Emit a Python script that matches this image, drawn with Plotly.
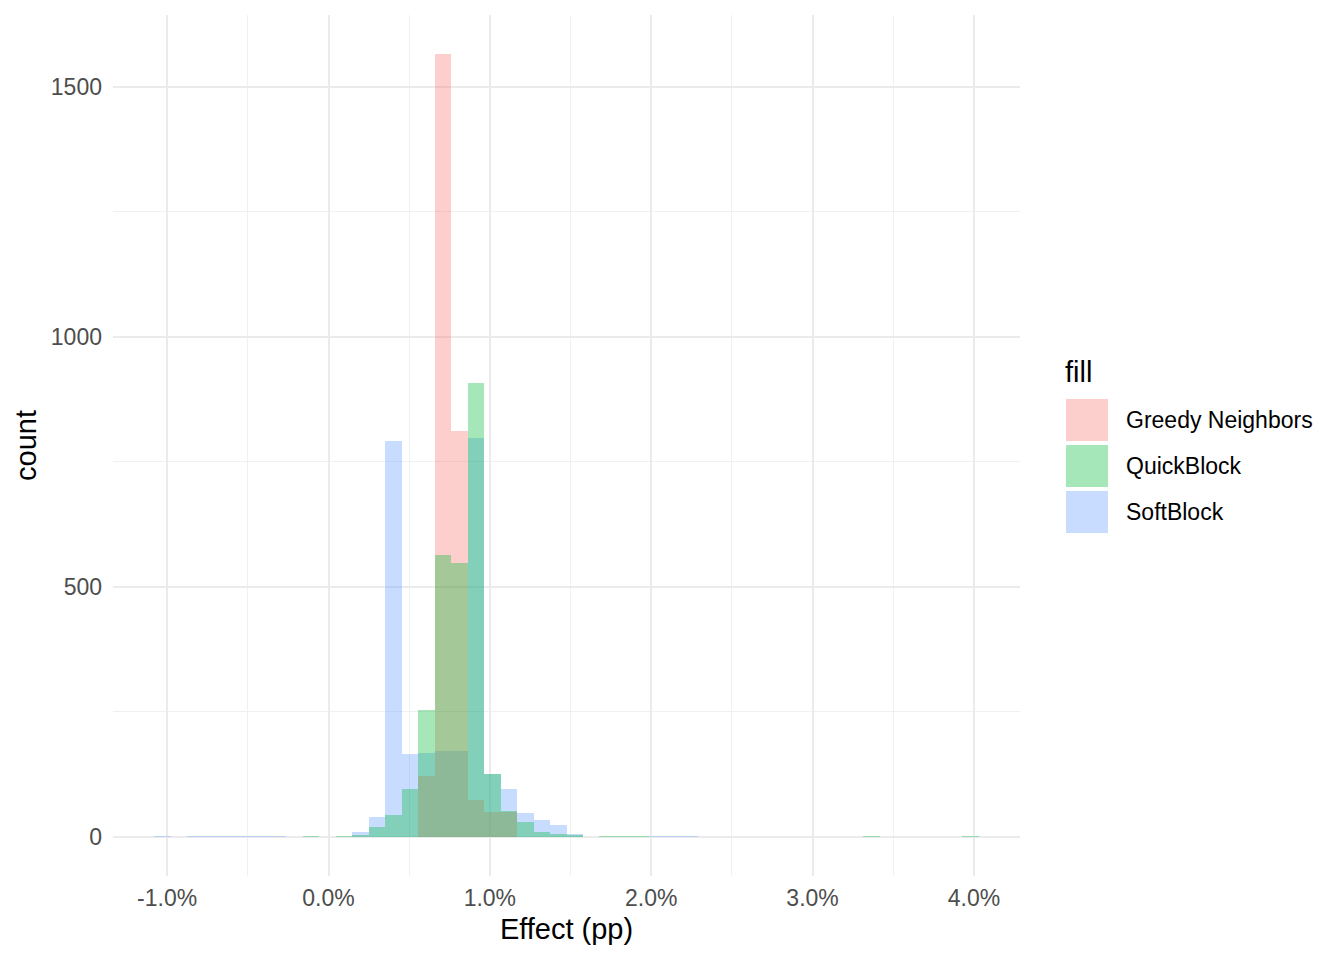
import numpy as np
import plotly.graph_objects as go

# Histogram binning (50 bins, in percentage points)
bin_start = -1.08
bin_width = 0.1022
n_bins = 50

series_names = ["Greedy Neighbors", "QuickBlock", "SoftBlock"]

# counts per bin index (bins not listed are 0)
greedy_counts = {16: 122, 17: 1565, 18: 811, 19: 73, 20: 49, 21: 49}
quick_counts = {9: 1, 11: 2, 12: 4, 13: 20, 14: 44, 15: 96, 16: 253, 17: 564,
                18: 547, 19: 908, 20: 125, 21: 52, 22: 29, 23: 9, 24: 6,
                25: 3, 27: 1, 28: 1, 29: 1, 43: 1, 49: 1}
soft_counts = {0: 1, 2: 1, 3: 1, 4: 1, 5: 1, 6: 1, 7: 1, 12: 10, 13: 40,
               14: 792, 15: 166, 16: 167, 17: 172, 18: 171, 19: 798, 20: 126,
               21: 95, 22: 47, 23: 33, 24: 23, 25: 6, 30: 1, 31: 1, 32: 1}

x_tick_vals = [-1, 0, 1, 2, 3, 4]
x_tick_text = ["-1.0%", "0.0%", "1.0%", "2.0%", "3.0%", "4.0%"]
y_tick_vals = [0, 500, 1000, 1500]
y_tick_text = ["0", "500", "1000", "1500"]

colors = {"Greedy Neighbors": "rgba(248,118,109,0.35)",
          "QuickBlock": "rgba(0,186,56,0.35)",
          "SoftBlock": "rgba(97,156,255,0.35)"}

centers = bin_start + bin_width * (np.arange(n_bins) + 0.5)


def to_array(d):
    arr = np.zeros(n_bins)
    for k, v in d.items():
        arr[k] = v
    return arr


counts = {"Greedy Neighbors": to_array(greedy_counts),
          "QuickBlock": to_array(quick_counts),
          "SoftBlock": to_array(soft_counts)}

# drawing (layer) order: SoftBlock, Greedy Neighbors, QuickBlock on top
draw_order = ["SoftBlock", "Greedy Neighbors", "QuickBlock"]

fig = go.Figure()
for name in draw_order:
    fig.add_trace(go.Bar(x=centers, y=counts[name], width=bin_width, name=name,
                         marker=dict(color=colors[name], line=dict(width=0)),
                         showlegend=False))

FONT = "Liberation Sans, Arial, Helvetica, sans-serif"
OFF = 8  # page body margin
W, H = 1344 - OFF, 960 - OFF
L, R, T, B = 113 - OFF, 324, 15 - OFF, 84
pw, ph = W - L - R, H - T - B

x_lo = bin_start
x_hi = bin_start + n_bins * bin_width
xr = [x_lo - 0.05 * (x_hi - x_lo), x_hi + 0.05 * (x_hi - x_lo)]
ymax = max(c.max() for c in counts.values())
yr = [-0.05 * ymax, ymax * 1.05]

fig.update_layout(
    width=W, height=H,
    margin=dict(l=L, r=R, t=T, b=B, autoexpand=False),
    paper_bgcolor="white", plot_bgcolor="white",
    barmode="overlay", bargap=0,
    font=dict(family=FONT, color="black"),
    xaxis=dict(range=xr, tickvals=x_tick_vals, ticktext=x_tick_text,
               showgrid=True, gridcolor="#EBEBEB", gridwidth=2,
               zeroline=False, showline=False, ticks="",
               ticklabelstandoff=6,
               tickfont=dict(size=23, color="#4D4D4D", family=FONT),
               minor=dict(dtick=0.5, tick0=0, showgrid=True, gridcolor="#F0F0F0", gridwidth=1.2),
               title=dict(text="Effect (pp)", font=dict(size=29, color="black", family=FONT), standoff=8)),
    yaxis=dict(range=yr, tickvals=y_tick_vals, ticktext=y_tick_text,
               showgrid=True, gridcolor="#EBEBEB", gridwidth=2,
               zeroline=False, showline=False, ticks="",
               ticklabelstandoff=10,
               tickfont=dict(size=23, color="#4D4D4D", family=FONT),
               minor=dict(dtick=250, tick0=0, showgrid=True, gridcolor="#F0F0F0", gridwidth=1.2),
               title=dict(text="count", font=dict(size=29, color="black", family=FONT), standoff=5)),
)


def px_x(px):
    return (px - OFF - L) / pw


def px_y(py):
    return (H - B - (py - OFF)) / ph


# custom legend (ggplot-style large keys)
fig.add_annotation(x=px_x(1063), y=px_y(372), xref="paper", yref="paper",
                   text="fill", showarrow=False, xanchor="left", yanchor="middle",
                   font=dict(size=29, color="black", family=FONT))
key_tops = [399, 445, 491]
for name, top in zip(series_names, key_tops):
    fig.add_shape(type="rect", xref="paper", yref="paper",
                  x0=px_x(1066), x1=px_x(1108), y0=px_y(top), y1=px_y(top + 42),
                  fillcolor=colors[name], line=dict(width=0))
    fig.add_annotation(x=px_x(1124), y=px_y(top + 21), xref="paper", yref="paper",
                       text=name, showarrow=False, xanchor="left", yanchor="middle",
                       font=dict(size=23, color="black", family=FONT))

fig.write_html("out.html")
